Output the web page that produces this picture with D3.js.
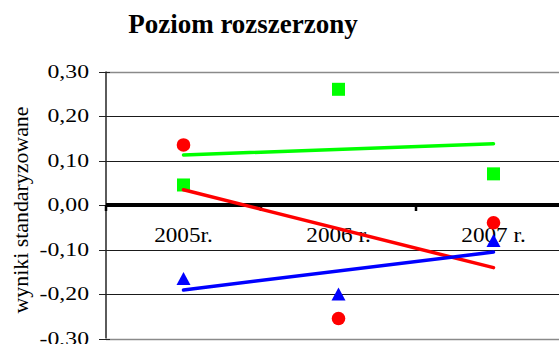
<!DOCTYPE html>
<html>
<head>
<meta charset="utf-8">
<script src="https://cdn.jsdelivr.net/npm/d3@7"></script>
<style>
  html, body { margin: 0; padding: 0; background: #fff; }
  svg { display: block; font-family: "Liberation Serif", "Times New Roman", serif; }
</style>
</head>
<body>
<svg id="chart" width="559" height="344"></svg>
<script>
// Years on the category axis
const categories = ["2005r.", "2006 r.", "2007 r."];

// Standardised results per series
const greenValues = [0.045, 0.26, 0.07];
const redValues   = [0.135, -0.255, -0.04];
const blueValues  = [-0.165, -0.20, -0.08];

// Value axis ticks
const yTicks = [0.3, 0.2, 0.1, 0.0, -0.1, -0.2, -0.3];

const title = "Poziom rozszerzony";
const yTitle = "wyniki standaryzowane";

const series = [
  { values: greenValues, color: "#00ff00", shape: "square" },
  { values: redValues,   color: "#ff0000", shape: "circle" },
  { values: blueValues,  color: "#0000ff", shape: "triangle" }
];

const svg = d3.select("#chart");

const plot = { left: 106, right: 571, top: 71.5, bottom: 338.5 };

const x = d3.scaleBand().domain(categories).range([plot.left, plot.right]);
const y = d3.scaleLinear().domain([-0.3, 0.3]).range([plot.bottom, plot.top]);
const cx = c => x(c) + x.bandwidth() / 2;

const fmt = v => d3.format(".2f")(v).replace(".", ",").replace("−", "-");

// Title
svg.append("text")
  .attr("x", 243).attr("y", 33)
  .attr("text-anchor", "middle")
  .attr("font-size", 27).attr("font-weight", "bold")
  .text(title);

// Horizontal gridlines
svg.append("g")
  .selectAll("line")
  .data(yTicks)
  .join("line")
  .attr("x1", plot.left).attr("x2", plot.right)
  .attr("y1", d => Math.round(y(d)) + 0.5).attr("y2", d => Math.round(y(d)) + 0.5)
  .attr("stroke", d => (Math.abs(d) === 0.3 ? "#8a8a8a" : "#1a1a1a"))
  .attr("stroke-width", d => (Math.abs(d) === 0.3 ? 1.6 : 1));

// Value axis: line, cross ticks, labels
svg.append("line")
  .attr("x1", plot.left).attr("x2", plot.left)
  .attr("y1", plot.top).attr("y2", plot.bottom)
  .attr("stroke", "#333").attr("stroke-width", 1.6);

svg.append("g")
  .selectAll("line")
  .data(yTicks)
  .join("line")
  .attr("x1", plot.left - 7).attr("x2", plot.left + 4)
  .attr("y1", d => Math.round(y(d)) + 0.5).attr("y2", d => Math.round(y(d)) + 0.5)
  .attr("stroke", "#222").attr("stroke-width", 1);

svg.append("g")
  .selectAll("text")
  .data(yTicks)
  .join("text")
  .attr("transform", d => `translate(89,${y(d) + 6.2}) scale(1.32,1)`)
  .attr("text-anchor", "end")
  .attr("font-size", 18)
  .text(d => fmt(d));

// Rotated value-axis title
svg.append("text")
  .attr("transform", "translate(28,210) rotate(-90)")
  .attr("text-anchor", "middle")
  .attr("font-size", 20.5)
  .attr("textLength", 207)
  .attr("lengthAdjust", "spacingAndGlyphs")
  .text(yTitle);

// Category labels under the zero line
svg.append("g")
  .selectAll("text")
  .data(categories)
  .join("text")
  .attr("transform", d => `translate(${cx(d)},242) scale(1.16,1)`)
  .attr("text-anchor", "middle")
  .attr("font-size", 20)
  .text(d => d);

// Zero axis (category axis) with boundary ticks
svg.append("line")
  .attr("x1", plot.left).attr("x2", plot.right)
  .attr("y1", y(0)).attr("y2", y(0))
  .attr("stroke", "#000").attr("stroke-width", 4);

const boundaries = categories.map(c => x(c));
svg.append("g")
  .selectAll("line")
  .data(boundaries)
  .join("line")
  .attr("x1", d => d).attr("x2", d => d)
  .attr("y1", y(0)).attr("y2", y(0) + 6)
  .attr("stroke", "#000").attr("stroke-width", 2.5);

// Markers
const markerG = svg.append("g");
series.forEach(s => {
  const pts = s.values.map((v, i) => ({ cx: cx(categories[i]), cy: y(v) }));
  if (s.shape === "square") {
    markerG.selectAll(null).data(pts).join("rect")
      .attr("x", d => d.cx - 6.5).attr("y", d => d.cy - 6.5)
      .attr("width", 13).attr("height", 13)
      .attr("fill", s.color);
  } else if (s.shape === "circle") {
    markerG.selectAll(null).data(pts).join("circle")
      .attr("cx", d => d.cx).attr("cy", d => d.cy).attr("r", 6.8)
      .attr("fill", s.color);
  } else {
    markerG.selectAll(null).data(pts).join("path")
      .attr("d", d => `M${d.cx},${d.cy - 6.5}L${d.cx + 7},${d.cy + 6.5}L${d.cx - 7},${d.cy + 6.5}Z`)
      .attr("fill", s.color);
  }
});

// Linear trend lines (least squares over category index)
const trendG = svg.append("g");
series.forEach(s => {
  const n = s.values.length;
  const xs = d3.range(n);
  const mx = d3.mean(xs), my = d3.mean(s.values);
  const slope = d3.sum(xs, i => (i - mx) * (s.values[i] - my)) / d3.sum(xs, i => (i - mx) ** 2);
  const icpt = my - slope * mx;
  const line = d3.line().x(d => cx(categories[d])).y(d => y(icpt + slope * d));
  trendG.append("path")
    .attr("d", line([0, n - 1]))
    .attr("fill", "none")
    .attr("stroke", s.color)
    .attr("stroke-width", 3.5)
    .attr("stroke-linecap", "round");
});
</script>
</body>
</html>
